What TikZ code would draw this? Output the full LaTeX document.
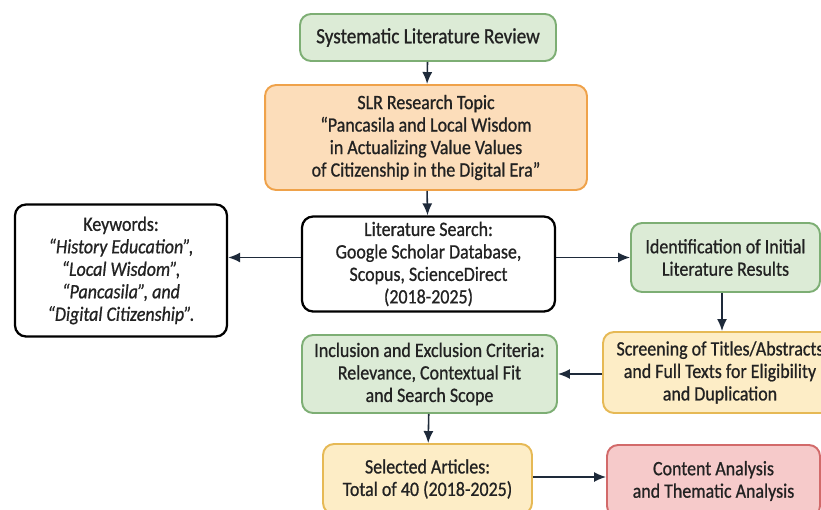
\documentclass[tikz,border=0pt]{standalone}
\usepackage{fontspec}
\setmainfont{Carlito}[FakeStretch=0.88, FakeBold=0.8]
\usetikzlibrary{positioning, calc, arrows, arrows.meta}
\tikzset{>={Latex[length=2.4mm,width=2mm]}}
\definecolor{arrowc}{HTML}{1E2A3A}
\definecolor{txt}{HTML}{222222}
\definecolor{greenfill}{HTML}{DCEBD6}
\definecolor{greendraw}{HTML}{7DAE74}
\definecolor{orangefill}{HTML}{FCDDBA}
\definecolor{orangedraw}{HTML}{EFA24A}
\definecolor{yellowfill}{HTML}{FDEDC6}
\definecolor{yellowdraw}{HTML}{E6B955}
\definecolor{redfill}{HTML}{F6CACA}
\definecolor{reddraw}{HTML}{D26A6A}

\begin{document}
\begin{tikzpicture}
    [
        x=0.02cm, y=-0.02cm,
        box/.style={rounded corners=2.2mm, align=center, text=txt, inner sep=0pt, font=\fontsize{11.6}{12.8}\selectfont},
        green_box/.style={box, draw=greendraw, fill=greenfill, line width=1.1pt},
        orange_box/.style={box, draw=orangedraw, fill=orangefill, line width=1.1pt},
        yellow_box/.style={box, draw=yellowdraw, fill=yellowfill, line width=1.1pt},
        red_box/.style={box, draw=reddraw, fill=redfill, line width=1.1pt},
        white_box/.style={box, draw=black, fill=white, line width=1.3pt},
        link/.style={->, draw=arrowc, line width=0.9pt},
    ]

  \useasboundingbox (0,0) rectangle (821,510);
  \clip (0,0) rectangle (821,510);

  \node[green_box, minimum width=5.12cm, minimum height=0.94cm, font=\fontsize{12.4}{14}\selectfont] (A) at (428,37.5) {Systematic Literature Review};
  \node[orange_box, minimum width=6.44cm, minimum height=2.1cm] (B) at (426,137.5) {SLR Research Topic\\“Pancasila and Local Wisdom\\in Actualizing Value Values\\of Citizenship in the Digital Era”};
  \node[white_box, minimum width=5.06cm, minimum height=1.9cm] (C) at (428.5,264) {Literature Search:\\Google Scholar Database,\\Scopus, ScienceDirect\\(2018-2025)};
  \node[white_box, minimum width=4.24cm, minimum height=2.64cm] (D) at (121,270.5) {Keywords:\\\textit{“History Education”,}\\\textit{“Local Wisdom”,}\\\textit{“Pancasila”, and}\\\textit{“Digital Citizenship”.}};
  \node[green_box, minimum width=3.78cm, minimum height=1.38cm] (E) at (725.5,257.5) {Identification of Initial\\Literature Results};
  \node[yellow_box, minimum width=4.68cm, minimum height=1.62cm] (F) at (720,372.5) {Screening of Titles/Abstracts\\and Full Texts for Eligibility\\and Duplication};
  \node[green_box, minimum width=5.1cm, minimum height=1.56cm] (G) at (429.5,374) {Inclusion and Exclusion Criteria:\\Relevance, Contextual Fit\\and Search Scope};
  \node[yellow_box, minimum width=4.18cm, minimum height=1.4cm] (H) at (427.5,479) {Selected Articles:\\Total of 40 (2018-2025)};
  \node[red_box, minimum width=4.26cm, minimum height=1.44cm] (I) at (713.5,481) {Content Analysis\\and Thematic Analysis};

  \draw[link] (A) -- (B);
  \draw[link] (B) -- (C);
  \draw[link] ($(C.west)+(0,-6.5)$) -- ($(D.east |- C.west)+(0,-6.5)$);
  \draw[link] ($(C.east)+(0,-6.5)$) -- ($(E.west |- C.east)+(0,-6.5)$);
  \draw[link] (E.south -| 722,0) -- (F.north -| 722,0);
  \draw[link] (F.west |- G.east) -- (G.east);
  \draw[link] (G) -- (H);
  \draw[link] ($(H.east)+(0,-2)$) -- ($(I.west |- H.east)+(0,-2)$);
\end{tikzpicture}
\end{document}
